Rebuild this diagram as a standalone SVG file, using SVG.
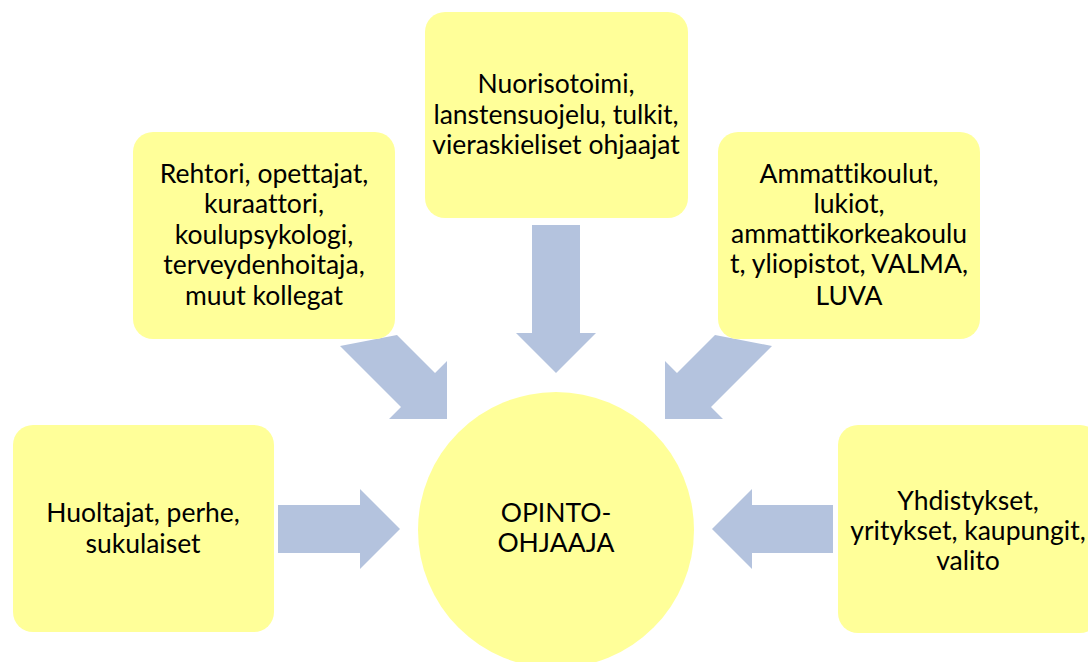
<svg xmlns="http://www.w3.org/2000/svg" width="1088" height="662" viewBox="0 0 1088 662">
  <style>
    .box { fill: #FFFF99; }
    .hub { fill: #FFFF99; }
    .arrow { fill: #B4C3DE; }
    text { font-family: Lato, "Open Sans", "Liberation Sans", sans-serif; font-size: 26.5px; fill: #000; text-anchor: middle; font-variant-ligatures: none; }
  </style>
  <rect width="1088" height="662" fill="#FFFFFF"/>

  <!-- flow arrows into the centre -->
  <g id="connectors">
    <polygon class="arrow" points="532,225 580,225 580,333 596,333 556,373 516,333 532,333"/>
    <polygon class="arrow" points="397,335 435,373 447,361 447,419 389,419 401,407 340,346"/>
    <polygon class="arrow" points="715,335 677,373 665,361 665,419 723,419 711,407 772,346"/>
    <polygon class="arrow" points="278,505 360,505 360,489 400,529 360,569 360,553 278,553"/>
    <polygon class="arrow" points="833,505 752,505 752,489 712,529 752,569 752,553 833,553"/>
  </g>

  <g id="node-top">
    <rect class="box" x="425" y="12" width="263" height="206" rx="20"/>
    <text x="556" y="93">Nuorisotoimi,</text>
    <text x="556" y="124">lanstensuojelu, tulkit,</text>
    <text x="556" y="154">vieraskieliset ohjaajat</text>
  </g>

  <g id="node-school">
    <rect class="box" x="133" y="132" width="262" height="207" rx="20"/>
    <text x="264" y="183">Rehtori, opettajat,</text>
    <text x="264" y="213">kuraattori,</text>
    <text x="264" y="244">koulupsykologi,</text>
    <text x="264" y="274">terveydenhoitaja,</text>
    <text x="264" y="305">muut kollegat</text>
  </g>

  <g id="node-education">
    <rect class="box" x="718" y="132" width="262" height="207" rx="20"/>
    <text x="849" y="183">Ammattikoulut,</text>
    <text x="849" y="213">lukiot,</text>
    <text x="849" y="243">ammattikorkeakoulu</text>
    <text x="849" y="273">t, yliopistot, VALMA,</text>
    <text x="849" y="305">LUVA</text>
  </g>

  <g id="node-family">
    <rect class="box" x="13" y="425" width="261" height="207" rx="20"/>
    <text x="143" y="522">Huoltajat, perhe,</text>
    <text x="143" y="553">sukulaiset</text>
  </g>

  <g id="node-community">
    <rect class="box" x="838" y="425" width="262" height="208" rx="20"/>
    <text x="968" y="510">Yhdistykset,</text>
    <text x="968" y="540">yritykset, kaupungit,</text>
    <text x="968" y="570">valito</text>
  </g>

  <g id="node-counsellor">
    <circle class="hub" cx="556" cy="530" r="138"/>
    <text x="556" y="522">OPINTO-</text>
    <text x="556" y="552">OHJAAJA</text>
  </g>
</svg>
